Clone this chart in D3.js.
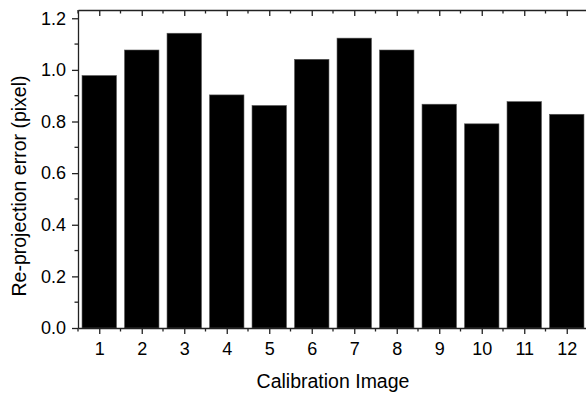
<!DOCTYPE html>
<html lang="en">
<head>
  <meta charset="UTF-8">
  <title>Re-projection error</title>
  <script src="https://d3js.org/d3.v7.min.js"></script>
  <style>
    body { margin: 0; background: #fff; }
    text { font-family: "Liberation Sans", Arial, sans-serif; fill: #000; }
    .axis path, .axis line { stroke: #222; stroke-width: 1.3px; }
  </style>
</head>
<body>
  <svg id="chart" width="586" height="394"></svg>

  <script>
    // Data
    const images = [1, 2, 3, 4, 5, 6, 7, 8, 9, 10, 11, 12];
    const errors = [0.978, 1.077, 1.142, 0.903, 0.862, 1.041, 1.123, 1.077, 0.867, 0.791, 0.877, 0.828];
    const yTicks = [0, 0.2, 0.4, 0.6, 0.8, 1.0, 1.2];
    const yMinor = [0.1, 0.3, 0.5, 0.7, 0.9, 1.1];

    const svg = d3.select("#chart");
    const plotLeft = 78, plotTop = 10, plotBottom = 328, plotRight = 588;

    const x = d3.scaleLinear().domain([0.5, 12.5]).range([plotLeft, plotRight]);
    const y = d3.scaleLinear().domain([0, 1.232]).range([plotBottom, plotTop]);
    const barW = (x(1) - x(0)) * 0.81;

    // bars
    svg.selectAll(".bar")
      .data(errors)
      .enter()
      .append("rect")
      .attr("class", "bar")
      .attr("x", (d, i) => x(images[i]) - barW / 2)
      .attr("y", d => y(d))
      .attr("width", barW)
      .attr("height", d => plotBottom - y(d))
      .attr("fill", "#000")
      .attr("stroke", "#555")
      .attr("stroke-width", 0.6);

    const xMinor = images.map(d => d + 0.5).concat([0.5]);

    // bottom axis
    const gx = svg.append("g").attr("class", "axis")
      .attr("transform", `translate(0,${plotBottom})`);
    gx.call(d3.axisBottom(x).tickValues(images).tickSize(6).tickSizeOuter(0).tickPadding(8).tickFormat(d3.format("d")));
    gx.append("g").selectAll("line").data(xMinor).enter().append("line")
      .attr("x1", d => x(d)).attr("x2", d => x(d)).attr("y1", 0).attr("y2", 3.5)
      .attr("stroke", "#222").attr("stroke-width", 1.3);
    gx.selectAll("text").style("font-size", "18px");

    // top axis (ticks inside)
    const gt = svg.append("g").attr("class", "axis")
      .attr("transform", `translate(0,${plotTop})`);
    gt.call(d3.axisTop(x).tickValues(images).tickSize(-6).tickSizeOuter(0).tickFormat(""));
    gt.append("g").selectAll("line").data(xMinor).enter().append("line")
      .attr("x1", d => x(d)).attr("x2", d => x(d)).attr("y1", 0).attr("y2", 3.5)
      .attr("stroke", "#222").attr("stroke-width", 1.3);

    // left axis
    const gy = svg.append("g").attr("class", "axis")
      .attr("transform", `translate(${plotLeft},0)`);
    gy.call(d3.axisLeft(y).tickValues(yTicks).tickSize(6).tickSizeOuter(0).tickPadding(6).tickFormat(d3.format(".1f")));
    gy.append("g").selectAll("line").data(yMinor).enter().append("line")
      .attr("x1", 0).attr("x2", -3.5).attr("y1", d => y(d)).attr("y2", d => y(d))
      .attr("stroke", "#222").attr("stroke-width", 1.3);
    gy.selectAll("text").style("font-size", "18px");

    // axis titles
    svg.append("text")
      .attr("x", (plotLeft + plotRight) / 2)
      .attr("y", 388)
      .attr("text-anchor", "middle")
      .style("font-size", "19.5px")
      .text("Calibration Image");

    svg.append("text")
      .attr("transform", "translate(26,186) rotate(-90)")
      .attr("text-anchor", "middle")
      .style("font-size", "19.5px")
      .text("Re-projection error (pixel)");
  </script>
</body>
</html>
